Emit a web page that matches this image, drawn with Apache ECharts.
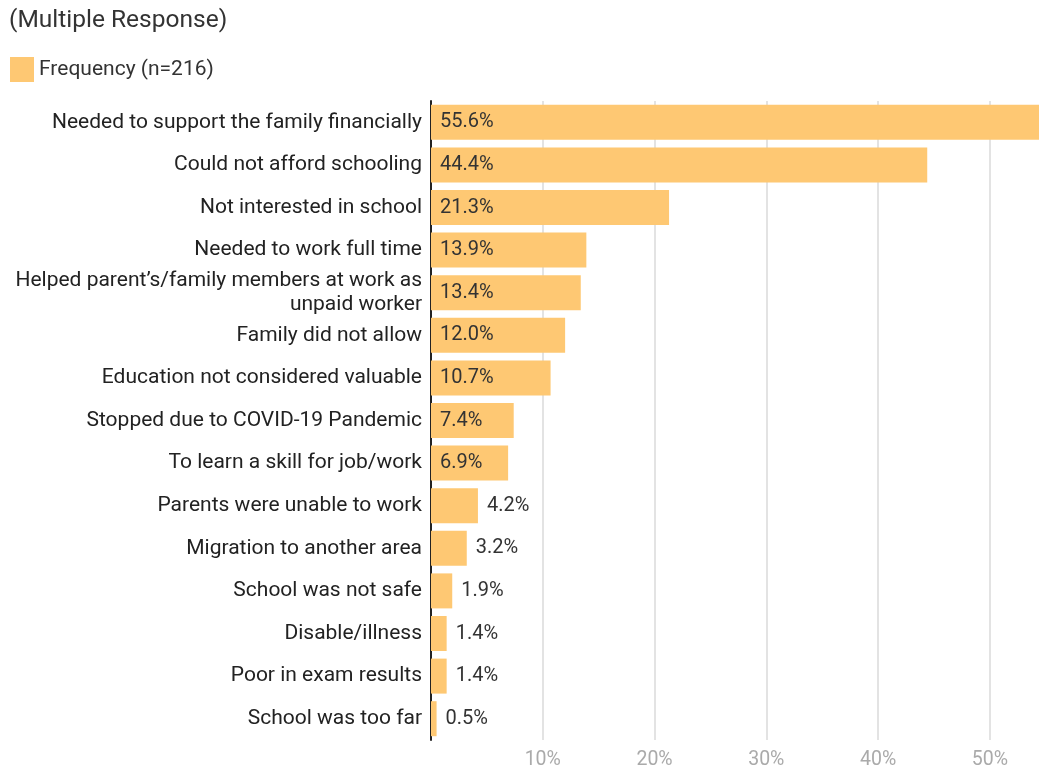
<!DOCTYPE html>
<html>
<head>
<meta charset="utf-8">
<script src="https://cdn.jsdelivr.net/npm/echarts@6/dist/echarts.min.js"></script>
<style>
  html, body { margin: 0; padding: 0; background: #fff; }
  #chart { width: 1039px; height: 769px; }
</style>
</head>
<body>
<div id="chart"></div>
<script>
// reasons (top to bottom)
var reasons = [
    'Needed to support the family financially',
    'Could not afford schooling',
    'Not interested in school',
    'Needed to work full time',
    'Helped parent\u2019s/family members at work as\nunpaid worker',
    'Family did not allow',
    'Education not considered valuable',
    'Stopped due to COVID-19 Pandemic',
    'To learn a skill for job/work',
    'Parents were unable to work',
    'Migration to another area',
    'School was not safe',
    'Disable/illness',
    'Poor in exam results',
    'School was too far'
];
// percent of respondents (n=216)
var freqPct = [55.6, 44.4, 21.3, 13.9, 13.4, 12.0, 10.7, 7.4, 6.9, 4.2, 3.2, 1.9, 1.4, 1.4, 0.5];
var xTicks = [10, 20, 30, 40, 50];

var barColor = '#fec873';

var seriesData = freqPct.map(function (v) {
    return {
        value: v,
        label: { position: v >= 5 ? 'insideLeft' : 'right' }
    };
});

var myChart = echarts.init(document.getElementById('chart'));
var option = {
    animation: false,
    textStyle: { fontFamily: 'Roboto' },
    title: {
        text: '(Multiple Response)',
        left: 9,
        top: 8,
        padding: 0,
        textStyle: { fontSize: 24.5, fontWeight: 'normal', color: '#333', fontFamily: 'Roboto' }
    },
    legend: {
        data: ['Frequency (n=216)'],
        left: 10,
        top: 57,
        padding: 0,
        itemWidth: 24,
        itemHeight: 25,
        icon: 'rect',
        textStyle: { fontSize: 21, color: '#333', fontFamily: 'Roboto' }
    },
    grid: {
        left: 431,
        right: 0,
        top: 101,
        bottom: 29,
        containLabel: false,
        outerBoundsMode: 'none'
    },
    xAxis: {
        type: 'value',
        min: 0,
        max: 54.4,   // the reference is cut off at the right edge
        interval: 10,
        axisLine: { show: false },
        axisTick: { show: false },
        splitLine: {
            show: true,
            showMaxLine: false,
            lineStyle: { color: '#e3e3e3', width: 2 }
        },
        axisLabel: {
            color: '#aaa',
            fontSize: 19.5,
            margin: 10,
            formatter: function (v) {
                return xTicks.indexOf(v) >= 0 ? v + '%' : '';
            }
        }
    },
    yAxis: {
        type: 'category',
        inverse: true,
        data: reasons,
        axisLine: { show: true, lineStyle: { color: '#222', width: 2 } },
        axisTick: { show: false },
        axisLabel: {
            color: '#222',
            fontSize: 21,
            margin: 9,
            lineHeight: 24,
            align: 'right'
        }
    },
    series: [{
        name: 'Frequency (n=216)',
        type: 'bar',
        barWidth: 35,
        clip: true,
        itemStyle: { color: barColor },
        label: {
            show: true,
            distance: 9,
            color: '#333',
            fontSize: 20,
            formatter: function (p) { return p.value.toFixed(1) + '%'; }
        },
        data: seriesData
    }]
};
myChart.setOption(option);
</script>
</body>
</html>
